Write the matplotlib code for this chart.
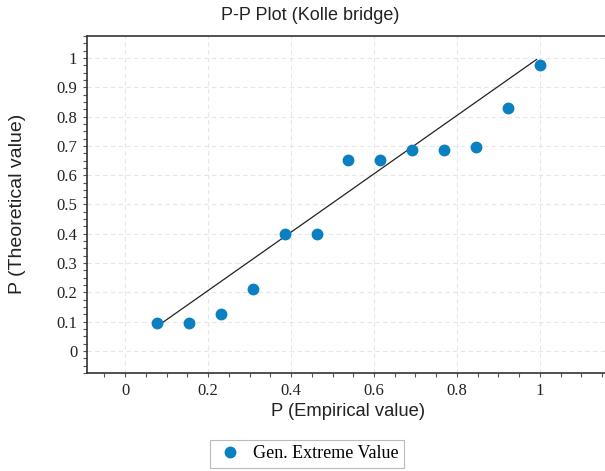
import matplotlib.pyplot as plt
from matplotlib.ticker import MultipleLocator
from matplotlib.lines import Line2D

# empirical vs theoretical probabilities, n = 13
p_emp = [1/13, 2/13, 3/13, 4/13, 5/13, 6/13, 7/13, 8/13, 9/13, 10/13, 11/13, 12/13, 13/13]
p_theo = [0.094, 0.094, 0.125, 0.21, 0.40, 0.40, 0.652, 0.652, 0.686, 0.686, 0.697, 0.830, 0.977]

# fitted reference line endpoints
ref_x = [0.085, 0.992]
ref_y = [0.092, 0.995]

blue = "#0a7fc2"
W, H = 605, 471
fig = plt.figure(figsize=(W / 100, H / 100), dpi=100)
ax = fig.add_axes([87 / W, 1 - 373 / H, (W - 87) / W, (373 - 36) / H])

ax.plot(ref_x, ref_y, color="#222222", lw=0.9, zorder=2)
ax.plot(p_emp, p_theo, "o", color=blue, ms=7.5, zorder=3)

ax.set_xlim(-0.092, 1.157)
ax.set_ylim(-0.075, 1.075)
ax.xaxis.set_major_locator(MultipleLocator(0.2))
ax.xaxis.set_minor_locator(MultipleLocator(0.05))
ax.yaxis.set_major_locator(MultipleLocator(0.1))
ax.yaxis.set_minor_locator(MultipleLocator(0.025))
ax.xaxis.set_major_formatter(lambda v, pos: f"{v:g}")
ax.yaxis.set_major_formatter(lambda v, pos: f"{v:g}")

ax.grid(True, which="major", color="#e6e6e6", linestyle=(0, (4, 3)), lw=0.8)
ax.tick_params(which="both", direction="out", length=3, width=0.8, color="#555555")
ax.tick_params(labelsize=12, labelcolor="#222222", pad=4)
for lab in ax.get_xticklabels() + ax.get_yticklabels():
    lab.set_family("Liberation Serif")
ax.spines["right"].set_visible(False)
for s in ("left", "top", "bottom"):
    ax.spines[s].set_color("#333333")
    ax.spines[s].set_linewidth(1.2)

fig.text(310 / W, 1 - 15 / H, "P-P Plot (Kolle bridge)", ha="center", va="center",
         family="Liberation Sans", fontsize=13, color="#222222")
fig.text(348 / W, 1 - 411 / H, "P (Empirical value)", ha="center", va="center",
         family="Liberation Sans", fontsize=13.2, color="#222222")
fig.text(18 / W, 1 - 204 / H, "P (Theoretical value)", ha="center", va="center",
         rotation=90, family="Liberation Sans", fontsize=14, color="#222222")

handle = Line2D([], [], marker="o", ls="", color=blue, ms=7.5)
leg = fig.legend([handle], ["Gen. Extreme Value"], loc="center",
                 bbox_to_anchor=(307 / W, 1 - 454 / H), frameon=True, fancybox=False,
                 prop={"family": "Liberation Serif", "size": 13}, handletextpad=0.5,
                 borderpad=0.3, handlelength=1.6)
leg.get_frame().set_edgecolor("#aaaaaa")
leg.get_frame().set_linewidth(0.8)

fig.savefig("out.png", dpi=100)
